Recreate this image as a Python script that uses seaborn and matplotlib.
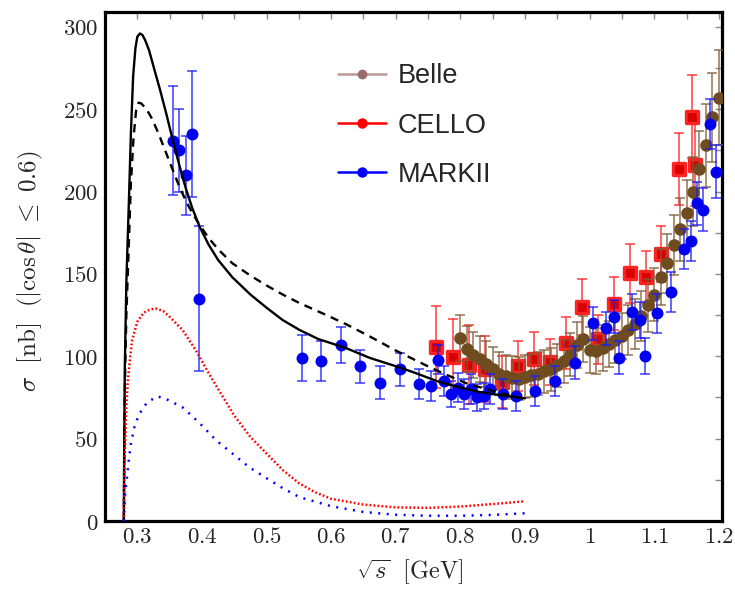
import numpy as np
import pandas as pd
import matplotlib
matplotlib.use("Agg")
import matplotlib.pyplot as plt
import seaborn as sns
from matplotlib.lines import Line2D
from matplotlib.ticker import MultipleLocator, FuncFormatter

# model curves
solid_x = [0.2791, 0.2796, 0.2806, 0.283, 0.287, 0.290, 0.2935, 0.297, 0.300, 0.304, 0.308,
           0.312, 0.318, 0.325, 0.335, 0.345, 0.355, 0.365, 0.375, 0.385, 0.396, 0.41,
           0.425, 0.447, 0.475, 0.50, 0.525, 0.551, 0.58, 0.623, 0.66, 0.70, 0.726,
           0.767, 0.80, 0.83, 0.86, 0.90]
solid_y = [0, 40, 93, 145, 195, 235, 270, 287, 294, 296, 295,
           292, 286, 276, 262, 247, 231, 216, 202, 190, 179, 168,
           158.5, 148, 137.5, 129.5, 122, 116, 110.5, 105, 99, 94, 90.5,
           84.5, 81, 78.3, 76.5, 74.5]

dashed_x = [0.2791, 0.2796, 0.2806, 0.283, 0.287, 0.290, 0.294, 0.298, 0.302, 0.306, 0.312,
            0.318, 0.323, 0.333, 0.344, 0.355, 0.365, 0.375, 0.385, 0.396, 0.41, 0.425,
            0.447, 0.475, 0.50, 0.525, 0.55, 0.59, 0.623, 0.66, 0.70, 0.752, 0.78,
            0.81, 0.85, 0.88, 0.90]
dashed_y = [0, 35, 80, 125, 170, 205, 232, 249, 254, 253.5, 251,
            247.5, 244, 235, 224, 213, 203, 194.5, 187, 180, 172, 165,
            156.5, 149, 143, 137.5, 132.5, 125.5, 119.5, 112, 103.5, 93.5, 88.5,
            83.5, 79, 75.8, 74]

red_x = [0.2791, 0.280, 0.2825, 0.285, 0.2885, 0.292, 0.30, 0.31, 0.32, 0.329, 0.34,
         0.35, 0.37, 0.39, 0.41, 0.43, 0.45, 0.475, 0.50, 0.525, 0.55, 0.575, 0.60,
         0.65, 0.70, 0.75, 0.80, 0.85, 0.90]
red_y = [0, 33, 65, 84, 98, 110, 121, 126.5, 128.5, 129, 127.5,
         124, 116, 104, 90, 77, 64, 51, 41, 31, 23, 17.5, 13.5,
         10, 8.3, 8, 8.8, 10.3, 12]

blue_x = [0.2791, 0.2805, 0.283, 0.2865, 0.29, 0.296, 0.303, 0.315, 0.331, 0.345, 0.37,
          0.395, 0.422, 0.447, 0.473, 0.50, 0.525, 0.551, 0.60, 0.65, 0.70, 0.75,
          0.80, 0.85, 0.90]
blue_y = [0, 14, 23, 36, 47, 58, 65, 72, 75.7, 74, 69,
          60, 49, 41, 32.7, 26, 20, 14.5, 9, 5.5, 3.8, 3.2,
          3.2, 3.7, 4.7]

# MARKII
mk_x = [0.355, 0.364, 0.375, 0.385, 0.395, 0.555, 0.585, 0.615, 0.645, 0.675, 0.706,
        0.736, 0.755, 0.766, 0.775, 0.785, 0.797, 0.806, 0.816, 0.826, 0.836, 0.846,
        0.866, 0.886, 0.915, 0.946, 0.977, 1.006, 1.025, 1.037, 1.046, 1.065, 1.078,
        1.086, 1.105, 1.126, 1.146, 1.157, 1.166, 1.176, 1.186, 1.195]
mk_y = [231, 225, 210, 235, 135, 99, 97, 107, 94, 84, 92,
        83, 82, 98, 85, 77, 81, 77, 80, 75, 76, 80,
        77, 76, 79, 85, 96, 120, 117, 124, 99, 127, 122,
        100, 126, 139, 165, 170, 193, 189, 241, 212]
mk_err = [33, 25, 24, 38, 44, 14, 12, 11, 10, 10, 10,
          9, 9, 9, 9, 8, 9, 9, 9, 8, 8, 9,
          9, 9, 9, 9, 10, 10, 10, 10, 10, 11, 11,
          11, 12, 12, 12, 12, 13, 13, 15, 16]

# CELLO
ce_x = [0.763, 0.788, 0.813, 0.838, 0.864, 0.889, 0.914, 0.9385, 0.9636, 0.988, 1.013,
        1.038, 1.063, 1.088, 1.111, 1.139, 1.159, 1.163]
ce_y = [105.6, 99.6, 95, 92.5, 84.4, 94, 98.6, 96.5, 108, 130, 110.3,
        132, 150.3, 148.2, 162.4, 213.7, 245.5, 216]
ce_err = [25, 23, 24, 20, 16, 15, 16, 14, 16, 17, 15,
          16, 18, 16, 17, 22, 25, 25]

# Belle
be_x = [0.80, 0.81, 0.82, 0.83, 0.84, 0.85, 0.86, 0.87, 0.88, 0.89, 0.90,
        0.91, 0.92, 0.93, 0.94, 0.95, 0.96, 0.97, 0.98, 0.99, 1.00,
        1.01, 1.02, 1.03, 1.04, 1.05, 1.06, 1.07, 1.08, 1.09, 1.10,
        1.11, 1.12, 1.13, 1.14, 1.15, 1.16, 1.17, 1.18, 1.19, 1.20]
be_y = [111, 104.5, 101, 98.5, 95.5, 92.5, 89.5, 88, 87, 86.5, 87.5,
        88.5, 89.5, 91, 92, 94.5, 97, 101, 107, 110.5, 104,
        103, 105, 107.5, 110, 112.5, 116, 119.5, 124.5, 131, 137.5,
        148, 156.5, 167.5, 177, 187, 200, 214, 228, 245, 257]
be_err = [14, 14, 14, 14, 14, 13, 13, 13, 13, 13, 13,
          13, 13, 13, 13, 13, 13, 13, 14, 14, 14,
          14, 14, 14, 14, 14, 15, 15, 15, 16, 16,
          17, 18, 18, 19, 20, 21, 23, 25, 27, 29]

sns.set_style("white")
plt.rcParams["mathtext.fontset"] = "cm"
plt.rcParams["font.family"] = ["DejaVu Serif"]

fig = plt.figure(figsize=(7.35, 5.9), dpi=100)
ax = fig.add_axes([0.1429, 0.1169, 0.8395, 0.8627])

# data
ax.errorbar(ce_x, ce_y, yerr=ce_err, fmt="none", ecolor="#ff2020", elinewidth=1.2,
            capsize=3.8, capthick=1.2, alpha=0.8, zorder=2)
sns.scatterplot(x=ce_x, y=ce_y, marker="s", s=80, color="#d80000", edgecolor="#ff2222",
                linewidth=2.4, ax=ax, zorder=2.5)
ax.errorbar(be_x, be_y, yerr=be_err, fmt="none", ecolor="#7e5c36", elinewidth=1.1,
            capsize=3.4, capthick=1.1, alpha=0.85, zorder=3)
sns.scatterplot(x=be_x, y=be_y, marker="o", s=82, color="#6f4c20", edgecolor="#6f4c20",
                linewidth=0, ax=ax, zorder=3.5)
ax.errorbar(mk_x, mk_y, yerr=mk_err, fmt="none", ecolor="#1a1aff", elinewidth=1.1,
            capsize=3.6, capthick=1.1, alpha=0.85, zorder=4)
sns.scatterplot(x=mk_x, y=mk_y, marker="o", s=74, color="#0000f0", edgecolor="#0000f0",
                linewidth=0, ax=ax, zorder=4.5)

# curves
sns.lineplot(x=solid_x, y=solid_y, color="black", lw=1.7, ax=ax, zorder=6)
sns.lineplot(x=dashed_x, y=dashed_y, color="black", lw=1.7, linestyle=(0, (3.5, 2.6)), ax=ax, zorder=6)
sns.lineplot(x=red_x, y=red_y, color="#ff0000", lw=1.8, linestyle=(0, (0.7, 0.9)), ax=ax, zorder=6)
sns.lineplot(x=blue_x, y=blue_y, color="#0000ff", lw=1.8, linestyle=(0, (0.8, 2.6)), ax=ax, zorder=6)

ax.set_xlim(0.25, 1.205)
ax.set_ylim(0, 309)
ax.xaxis.set_major_locator(MultipleLocator(0.1))
ax.xaxis.set_minor_locator(MultipleLocator(0.05))
ax.yaxis.set_major_locator(MultipleLocator(50))
ax.yaxis.set_minor_locator(MultipleLocator(25))
fmt = FuncFormatter(lambda v, p: f"${v:g}$")
ax.xaxis.set_major_formatter(fmt)
ax.yaxis.set_major_formatter(fmt)
ax.tick_params(which="both", direction="in", top=True, right=True, length=5,
               width=1, color="#8a8a8a", labelsize=16.5, pad=5)
ax.tick_params(axis="x", pad=3.5)
for sp in ax.spines.values():
    sp.set_linewidth(2.3)
    sp.set_color("black")

ax.set_xlabel(r"$\sqrt{s}\ \ [\mathrm{GeV}]$", fontsize=17.5)
ax.set_ylabel(r"$\sigma\ \ [\mathrm{nb}]\ \ (|\cos\theta|\ \leq\ 0.6)$", fontsize=18)
ax.xaxis.set_label_coords(0.494, -0.072)
ax.yaxis.set_label_coords(-0.098, 0.49)

handles = [
    Line2D([], [], color="#b89898", lw=1.8, marker="o", markersize=6,
           markerfacecolor="#9a6a6a", markeredgecolor="#9a6a6a"),
    Line2D([], [], color="#ff0000", lw=1.8, marker="o", markersize=6.5,
           markerfacecolor="#ff0000", markeredgecolor="#ff0000"),
    Line2D([], [], color="#0000ff", lw=1.8, marker="o", markersize=6.5,
           markerfacecolor="#0000ff", markeredgecolor="#0000ff"),
]
leg = fig.legend(handles, ["Belle", "CELLO", "MARKII"], loc="upper left",
                 bbox_to_anchor=(0.427, 0.934), frameon=False, handlelength=1.75,
                 handletextpad=0.45, labelspacing=0.86,
                 prop={"family": "Liberation Sans", "size": 19.5})

fig.savefig("out.png", dpi=100)
